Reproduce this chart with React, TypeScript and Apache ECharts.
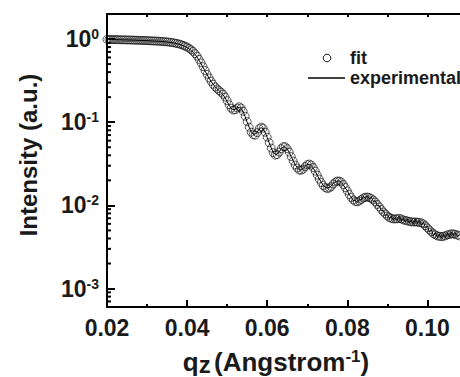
import React, { useEffect, useRef } from "react";
import * as echarts from "echarts";

// q values (Angstrom^-1), step 0.0005
const qValues = [
  0.02, 0.0205, 0.021, 0.0215, 0.022, 0.0225, 0.023, 0.0235, 0.024, 0.0245,
  0.025, 0.0255, 0.026, 0.0265, 0.027, 0.0275, 0.028, 0.0285, 0.029, 0.0295,
  0.03, 0.0305, 0.031, 0.0315, 0.032, 0.0325, 0.033, 0.0335, 0.034, 0.0345,
  0.035, 0.0355, 0.036, 0.0365, 0.037, 0.0375, 0.038, 0.0385, 0.039, 0.0395,
  0.04, 0.0405, 0.041, 0.0415, 0.042, 0.0425, 0.043, 0.0435, 0.044, 0.0445,
  0.045, 0.0455, 0.046, 0.0465, 0.047, 0.0475, 0.048, 0.0485, 0.049, 0.0495,
  0.05, 0.0505, 0.051, 0.0515, 0.052, 0.0525, 0.053, 0.0535, 0.054, 0.0545,
  0.055, 0.0555, 0.056, 0.0565, 0.057, 0.0575, 0.058, 0.0585, 0.059, 0.0595,
  0.06, 0.0605, 0.061, 0.0615, 0.062, 0.0625, 0.063, 0.0635, 0.064, 0.0645,
  0.065, 0.0655, 0.066, 0.0665, 0.067, 0.0675, 0.068, 0.0685, 0.069, 0.0695,
  0.07, 0.0705, 0.071, 0.0715, 0.072, 0.0725, 0.073, 0.0735, 0.074, 0.0745,
  0.075, 0.0755, 0.076, 0.0765, 0.077, 0.0775, 0.078, 0.0785, 0.079, 0.0795,
  0.08, 0.0805, 0.081, 0.0815, 0.082, 0.0825, 0.083, 0.0835, 0.084, 0.0845,
  0.085, 0.0855, 0.086, 0.0865, 0.087, 0.0875, 0.088, 0.0885, 0.089, 0.0895,
  0.09, 0.0905, 0.091, 0.0915, 0.092, 0.0925, 0.093, 0.0935, 0.094, 0.0945,
  0.095, 0.0955, 0.096, 0.0965, 0.097, 0.0975, 0.098, 0.0985, 0.099, 0.0995,
  0.1, 0.1005, 0.101, 0.1015, 0.102, 0.1025, 0.103, 0.1035, 0.104, 0.1045,
  0.105, 0.1055, 0.106, 0.1065, 0.107, 0.1075, 0.108,
];

// fitted reflectivity (open circles)
const fitIntensity = [
  0.989, 0.989, 0.986, 0.986, 0.984, 0.984, 0.981, 0.981, 0.978, 0.978,
  0.975, 0.975, 0.973, 0.97, 0.97, 0.967, 0.965, 0.962, 0.962, 0.959,
  0.957, 0.954, 0.951, 0.949, 0.946, 0.944, 0.941, 0.936, 0.933, 0.928,
  0.923, 0.918, 0.91, 0.903, 0.893, 0.883, 0.871, 0.857, 0.84, 0.822,
  0.8, 0.774, 0.744, 0.71, 0.668, 0.622, 0.569, 0.517, 0.465, 0.418,
  0.376, 0.34, 0.31, 0.2855, 0.2658, 0.2515, 0.2399, 0.2289, 0.2166, 0.2005,
  0.181, 0.1621, 0.1472, 0.14, 0.1412, 0.148, 0.1534, 0.148, 0.1355, 0.118,
  0.1014, 0.0871, 0.0759, 0.0708, 0.0698, 0.0748, 0.0836, 0.0871, 0.0847, 0.0759,
  0.0661, 0.0568, 0.0488, 0.0431, 0.0402, 0.0408, 0.0437, 0.0481, 0.0508, 0.0508,
  0.0481, 0.0437, 0.0386, 0.0341, 0.0305, 0.0281, 0.0266, 0.0264, 0.0273, 0.0293,
  0.0309, 0.0314, 0.0305, 0.0285, 0.0258, 0.0231, 0.0207, 0.0188, 0.0173, 0.0164,
  0.0159, 0.0162, 0.0168, 0.0181, 0.0191, 0.0196, 0.0196, 0.0191, 0.0178, 0.0164,
  0.0149, 0.0135, 0.01243, 0.0116, 0.01114, 0.01104, 0.0113, 0.01177, 0.01227, 0.01251,
  0.0126, 0.01243, 0.0121, 0.0116, 0.01098, 0.01025, 0.00957, 0.00893, 0.00834, 0.00789,
  0.00746, 0.00716, 0.00697, 0.00687, 0.00687, 0.00691, 0.00697, 0.00687, 0.00668, 0.00659,
  0.0065, 0.00641, 0.00632, 0.00632, 0.00632, 0.00629, 0.00624, 0.00615, 0.00598, 0.00569,
  0.00536, 0.00507, 0.0048, 0.00457, 0.00442, 0.0043, 0.00424, 0.00421, 0.00424, 0.00432,
  0.00442, 0.00448, 0.00454, 0.00454, 0.00448, 0.00439, 0.0043,
];

// measured reflectivity (solid line)
const expIntensity = [
  0.985, 0.99, 0.988, 0.984, 0.986, 0.982, 0.98, 0.983, 0.977, 0.976,
  0.978, 0.972, 0.974, 0.968, 0.971, 0.966, 0.963, 0.964, 0.96, 0.958,
  0.956, 0.955, 0.95, 0.947, 0.948, 0.942, 0.939, 0.937, 0.931, 0.929,
  0.921, 0.916, 0.909, 0.9, 0.891, 0.879, 0.867, 0.851, 0.833, 0.812,
  0.79, 0.762, 0.73, 0.694, 0.652, 0.604, 0.553, 0.503, 0.455, 0.411,
  0.372, 0.338, 0.309, 0.286, 0.267, 0.252, 0.239, 0.227, 0.213, 0.196,
  0.177, 0.16, 0.147, 0.141, 0.143, 0.149, 0.152, 0.146, 0.133, 0.116,
  0.1, 0.087, 0.077, 0.072, 0.0715, 0.076, 0.083, 0.086, 0.083, 0.075,
  0.0655, 0.0565, 0.049, 0.0435, 0.041, 0.0413, 0.044, 0.0478, 0.0503, 0.0502,
  0.0476, 0.0434, 0.0385, 0.0342, 0.0308, 0.0285, 0.0268, 0.0266, 0.0277, 0.0296,
  0.0311, 0.0312, 0.0301, 0.0281, 0.0256, 0.023, 0.0208, 0.019, 0.0172, 0.0166,
  0.0161, 0.0165, 0.0171, 0.0184, 0.0193, 0.0195, 0.0197, 0.0188, 0.0177, 0.0161,
  0.0151, 0.0133, 0.0126, 0.0114, 0.0115, 0.0108, 0.0117, 0.0116, 0.0129, 0.0121,
  0.0131, 0.0119, 0.0126, 0.0112, 0.0113, 0.0099, 0.0099, 0.0087, 0.0087, 0.0075,
  0.0078, 0.0069, 0.0074, 0.0066, 0.0072, 0.0066, 0.0074, 0.0065, 0.0071, 0.0063,
  0.0069, 0.0061, 0.0067, 0.0059, 0.0068, 0.006, 0.0066, 0.0058, 0.0063, 0.0054,
  0.0056, 0.0048, 0.0051, 0.0043, 0.0047, 0.0041, 0.0045, 0.004, 0.0045, 0.0041,
  0.0047, 0.0042, 0.0048, 0.0043, 0.0047, 0.0042, 0.0045,
];

const yMinorTicks = [
  0.0006, 0.0007, 0.0008, 0.0009,
  0.002, 0.003, 0.004, 0.005, 0.006, 0.007, 0.008, 0.009,
  0.02, 0.03, 0.04, 0.05, 0.06, 0.07, 0.08, 0.09,
  0.2, 0.3, 0.4, 0.5, 0.6, 0.7, 0.8, 0.9,
];

const legendLabels = ["fit", "experimental"];
const xTitle = { main: "q", sub: "z", unit: "(Angstrom", sup: "-1", close: ")" };
const yTitle = "Intensity (a.u.)";

const FONT = "'Liberation Sans', Arial, Helvetica, sans-serif";

export default function App() {
  const ref = useRef<HTMLDivElement>(null);

  useEffect(() => {
    const chart = echarts.init(ref.current!, null, { renderer: "svg" });
    const axisLine = { show: true, onZero: false, lineStyle: { color: "#000", width: 2 } };
    const xMin = 0.02;
    const xMax = 0.12;

    chart.setOption({
      animation: false,
      backgroundColor: "#fff",
      grid: { left: 107, top: 14, width: 400.5, height: 293, containLabel: false, outerBoundsMode: "none" },
      xAxis: [
        {
          type: "value",
          position: "bottom",
          min: xMin,
          max: xMax,
          interval: 0.02,
          axisLine,
          axisTick: { inside: true, length: 7, lineStyle: { color: "#000", width: 2 } },
          minorTick: { show: true, splitNumber: 2, length: 3, lineStyle: { color: "#000", width: 2 } },
          splitLine: { show: false },
          axisLabel: {
            color: "#1a1a1a",
            fontSize: 23,
            fontWeight: "bold",
            fontFamily: FONT,
            margin: 9,
            showMaxLabel: false,
            formatter: (v: number) => v.toFixed(2),
          },
        },
        {
          type: "value",
          position: "top",
          min: xMin,
          max: xMax,
          interval: 0.02,
          axisLine,
          axisTick: { inside: true, length: 3, lineStyle: { color: "#000", width: 2 } },
          minorTick: { show: true, splitNumber: 2, length: 3, lineStyle: { color: "#000", width: 2 } },
          splitLine: { show: false },
          axisLabel: { show: false },
        },
      ],
      yAxis: {
        type: "log",
        logBase: 10,
        min: 0.0006,
        max: 2,
        axisLine,
        axisTick: { inside: true, length: 8, lineStyle: { color: "#000", width: 2 } },
        splitLine: { show: false },
        axisLabel: {
          margin: 8,
          formatter: (v: number) => {
            const e = Math.log10(v);
            const r = Math.round(e);
            if (Math.abs(e - r) > 1e-6) return "";
            return `{b|10}{s|${r}}`;
          },
          rich: {
            b: { fontSize: 23, fontWeight: "bold", fontFamily: FONT, color: "#1a1a1a", lineHeight: 24 },
            s: { fontSize: 14, fontWeight: "bold", fontFamily: FONT, color: "#1a1a1a", lineHeight: 14, verticalAlign: "top" },
          },
        },
      },
      series: [
        {
          name: legendLabels[0],
          type: "scatter",
          symbol: "circle",
          symbolSize: 8,
          itemStyle: { color: "rgba(255,255,255,0)", borderColor: "#000", borderWidth: 0.8 },
          data: qValues.map((q, i) => [q, fitIntensity[i]]),
          z: 3,
        },
        {
          name: legendLabels[1],
          type: "line",
          showSymbol: false,
          lineStyle: { color: "#000", width: 1 },
          data: qValues.map((q, i) => [q, expIntensity[i]]),
          z: 4,
        },
        {
          type: "custom",
          silent: true,
          clip: false,
          renderItem: (_p: any, api: any) => {
            const pt = api.coord([api.value(0), api.value(1)]);
            return {
              type: "line",
              shape: { x1: pt[0], y1: pt[1], x2: pt[0] + 4, y2: pt[1] },
              style: { stroke: "#000", lineWidth: 2 },
            };
          },
          data: yMinorTicks.map((v) => [xMin, v]),
          z: 5,
        },
      ],
      graphic: [
        {
          type: "circle",
          shape: { cx: 327, cy: 58, r: 3.8 },
          style: { fill: "none", stroke: "#000", lineWidth: 0.9 },
        },
        {
          type: "text",
          x: 350,
          y: 58,
          style: { text: legendLabels[0], fontSize: 18, fontWeight: "bold", fontFamily: FONT, fill: "#1a1a1a", verticalAlign: "middle" },
        },
        {
          type: "line",
          shape: { x1: 308, y1: 78, x2: 345, y2: 78 },
          style: { stroke: "#000", lineWidth: 1.3 },
        },
        {
          type: "text",
          x: 350,
          y: 78,
          style: { text: legendLabels[1], fontSize: 18, fontWeight: "bold", fontFamily: FONT, fill: "#1a1a1a", verticalAlign: "middle" },
        },
        {
          type: "text",
          x: 28,
          y: 155,
          rotation: Math.PI / 2,
          style: { text: yTitle, fontSize: 24, fontWeight: "bold", fontFamily: FONT, fill: "#1a1a1a", align: "center", verticalAlign: "middle" },
        },
        {
          type: "text",
          x: 276,
          y: 362,
          style: {
            text: `{m|${xTitle.main}}{z|${xTitle.sub}}{g| }{m|${xTitle.unit}}{s|${xTitle.sup}}{m|${xTitle.close}}`,
            align: "center",
            verticalAlign: "middle",
            rich: {
              m: { fontSize: 26, fontWeight: "bold", fontFamily: FONT, fill: "#1a1a1a", lineHeight: 28 },
              z: { fontSize: 24, fontWeight: "bold", fontFamily: FONT, fill: "#1a1a1a", lineHeight: 18, verticalAlign: "bottom" },
              g: { fontSize: 12, lineHeight: 6 },
              s: { fontSize: 17, fontWeight: "bold", fontFamily: FONT, fill: "#1a1a1a", lineHeight: 16, verticalAlign: "top" },
            },
          },
        },
      ],
    });
    return () => chart.dispose();
  }, []);

  return (
    <div
      ref={ref}
      style={{ position: "fixed", left: 0, top: 0, width: 460, height: 377, background: "#fff" }}
    />
  );
}
